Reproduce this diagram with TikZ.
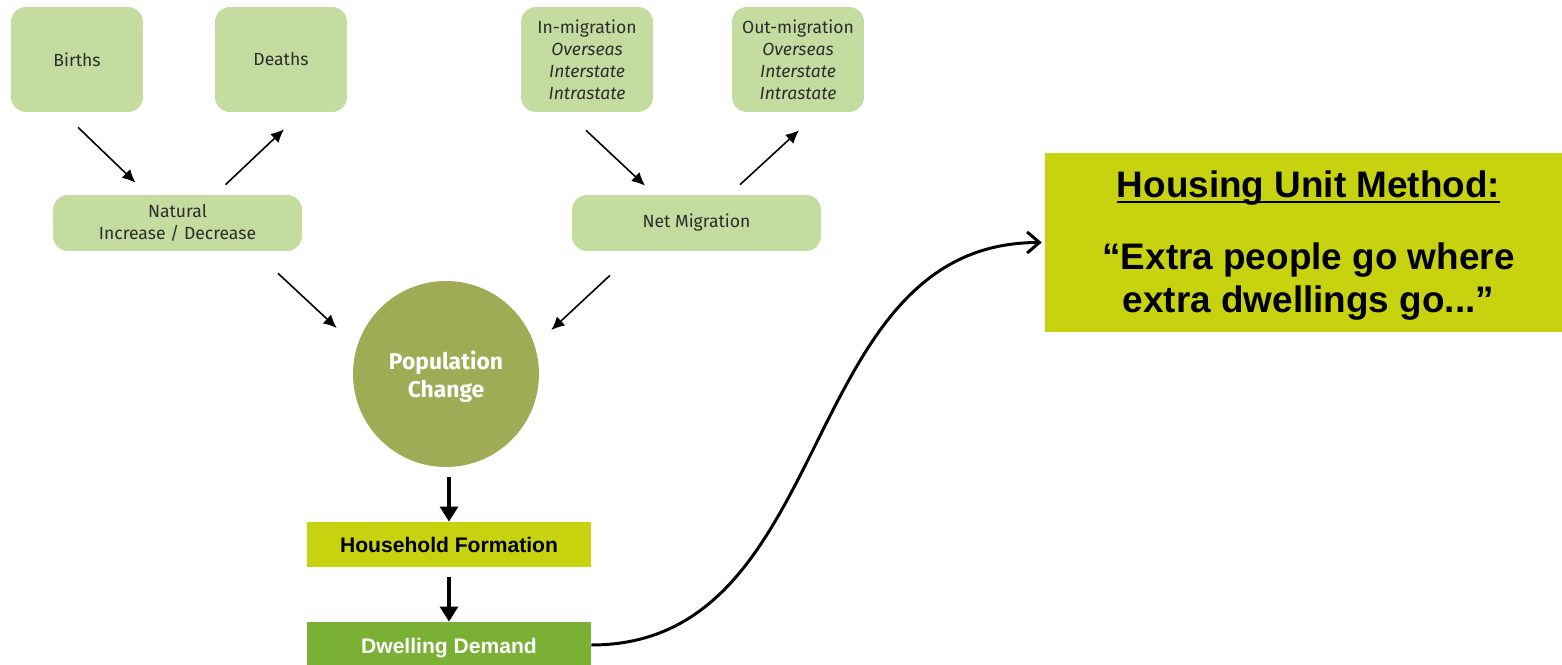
\documentclass[tikz,border=0pt]{standalone}
\usepackage{fontspec}
\setmainfont{Fira Sans}
\newfontfamily\arialfont{Liberation Sans}
\newsavebox\hdbox
\newcommand\hdunder[1]{\sbox\hdbox{#1}\rlap{\usebox\hdbox}\rule[-3.2pt]{\wd\hdbox}{1.3pt}}
\usetikzlibrary{arrows.meta,calc}
\definecolor{lightgrn}{RGB}{197,220,160}
\definecolor{olivegrn}{RGB}{160,171,85}
\definecolor{limegrn}{RGB}{200,211,15}
\definecolor{leafgrn}{RGB}{122,176,52}
\definecolor{txtgray}{RGB}{45,45,45}

\begin{document}
\begin{tikzpicture}[x=0.02cm,y=-0.02cm,
        srcbox/.style={fill=lightgrn,rounded corners=0.3cm,text=txtgray,align=center,inner sep=0pt,
            font=\fontsize{10}{12.5}\selectfont},
        thinarr/.style={line width=0.9pt,-{Latex[length=7.5pt,width=7pt]}},
        fatarr/.style={line width=2.3pt,-{Triangle[length=8.5pt,width=10pt]}},
        barbox/.style={minimum width=5.68cm,inner sep=0pt,font=\arialfont\bfseries\fontsize{12}{14}\selectfont}]
    \useasboundingbox (0,0) rectangle (1562,665);
    % sources of change
    \node[srcbox,minimum width=2.64cm,minimum height=2.1cm] (births) at (77,59.5) {Births};
    \node[srcbox,minimum width=2.64cm,minimum height=2.1cm] (deaths) at (281,59.5) {Deaths};
    \node[srcbox,minimum width=2.64cm,minimum height=2.1cm] (inmig) at (587,59.5)
        {In-migration\\\itshape Overseas\\\itshape Interstate\\\itshape Intrastate};
    \node[srcbox,minimum width=2.64cm,minimum height=2.1cm] (outmig) at (798,59.5)
        {Out-migration\\\itshape Overseas\\\itshape Interstate\\\itshape Intrastate};
    \node[srcbox,minimum width=4.98cm,minimum height=1.12cm] (natural) at (177.5,223) {Natural\\Increase / Decrease};
    \node[srcbox,minimum width=4.98cm,minimum height=1.12cm] (netmig) at (696.5,223) {Net Migration};
    \draw[thinarr] ($(births.south)+(1,15)$) -- ($(natural.north)+(-42,-12)$);
    \draw[thinarr] ($(natural.north)+(48,-10)$) -- ($(deaths.south)+(3,17)$);
    \draw[thinarr] ($(inmig.south)+(-1,18)$) -- ($(netmig.north)+(-51.5,-9)$);
    \draw[thinarr] ($(netmig.north)+(43.5,-10)$) -- ($(outmig.south)+(1,18)$);
    % population and housing
    \node[circle,fill=olivegrn,minimum size=3.72cm,inner sep=0pt] (popchange) at (446,374) {};
    \node[text=white,align=center,font=\bfseries\fontsize{13}{16}\selectfont] (poplabel)
        at ($(popchange.center)+(0,3)$) {Population\\Change};
    \draw[thinarr] ($(natural.south)+(100.5,22)$) -- ($(popchange.west)+(-16,-46)$);
    \draw[thinarr] ($(netmig.south)+(-86.5,24)$) -- ($(popchange.east)+(12,-44)$);
    \node[barbox,fill=limegrn,minimum height=0.9cm] (household) at (449,544.5) {Household Formation};
    \node[barbox,fill=leafgrn,minimum height=1.04cm,text=white] (dwelling) at (449,648) {Dwelling Demand};
    \draw[fatarr] ($(popchange.south -| household.north)+(0,10)$) -- (household.north);
    \draw[fatarr] ($(household.south)+(0,10)$) -- (dwelling.north);
    \node[fill=limegrn,minimum width=10.34cm,minimum height=3.58cm,inner sep=0pt] (housing) at (1303.5,242.5) {};
    \node[align=center,font=\arialfont\bfseries\fontsize{21}{24}\selectfont] (housinglabel)
        at ($(housing.center)+(5,3)$)
        {\hdunder{Housing Unit Method:}\\[17pt]“Extra people go where\\extra dwellings go...”};
    \draw[line width=1.7pt,-{Straight Barb[length=7pt,width=12pt]}]
        ($(dwelling.east)+(0,-3)$) to[out=0,in=180,looseness=1.05] ($(housing.west)+(-3,0)$);
\end{tikzpicture}
\end{document}
